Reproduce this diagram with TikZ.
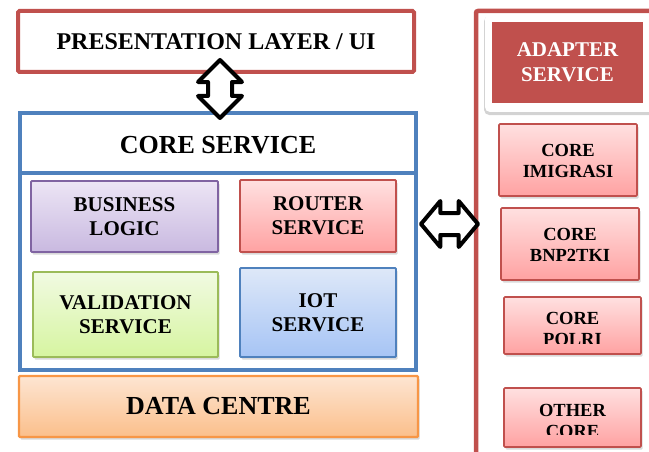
\documentclass[tikz,border=0pt]{standalone}
\usepackage{fontspec}
\setmainfont{Liberation Serif}
\usetikzlibrary{shapes.arrows,shadows}
\definecolor{redline}{HTML}{C0504D}
\definecolor{blueline}{HTML}{4F81BD}
\definecolor{purpleline}{HTML}{8064A2}
\definecolor{greenline}{HTML}{9BBB59}
\definecolor{orangeline}{HTML}{F79646}
\definecolor{purpletop}{HTML}{ECE5F5}
\definecolor{purplebot}{HTML}{C9B9E0}
\definecolor{redtop}{HTML}{FFE0E0}
\definecolor{redbot}{HTML}{FFA2A2}
\definecolor{greentop}{HTML}{F1FAE2}
\definecolor{greenbot}{HTML}{D6F5A0}
\definecolor{bluetop}{HTML}{DEE8F8}
\definecolor{bluebot}{HTML}{A6C4F5}
\definecolor{orangetop}{HTML}{FDE5D2}
\definecolor{orangebot}{HTML}{FBBF8B}
\tikzset{
  softshadow/.style={drop shadow={opacity=0.3, shadow xshift=1.5pt, shadow yshift=-2.5pt}},
  box/.style={draw, line width=1.8pt, rounded corners=1pt, inner sep=0pt, align=center,
    font=\bfseries\fontsize{21}{24}\selectfont, softshadow},
  purplebox/.style={box, draw=purpleline, top color=purpletop, bottom color=purplebot},
  redbox/.style={box, draw=redline, top color=redtop, bottom color=redbot},
  greenbox/.style={box, draw=greenline, top color=greentop, bottom color=greenbot},
  bluebox/.style={box, draw=blueline, top color=bluetop, bottom color=bluebot},
  orangebox/.style={box, draw=orangeline, line width=2.2pt, top color=orangetop, bottom color=orangebot,
    font=\bfseries\fontsize{26}{30}\selectfont},
  corebox/.style={redbox, line width=1.6pt},
  coretext/.style={inner sep=0pt, align=center, font=\bfseries\fontsize{18.5}{21}\selectfont},
  blockarrow/.style={draw=black, line width=4pt, fill=white, line join=round, inner sep=0pt}
}
\begin{document}
\begin{tikzpicture}[x=1pt,y=-1pt]
\useasboundingbox (0,0) rectangle (649,452);

% presentation layer
\node[draw=redline, line width=4pt, rounded corners=1.5pt, fill=white, minimum width=396pt, minimum height=61pt,
  font=\bfseries\fontsize{24}{28}\selectfont] (ui) at (216,41.5) {PRESENTATION LAYER / UI};

% core service container with header
\node[draw=blueline, line width=4pt, minimum width=396pt, minimum height=257pt, inner sep=0pt] (core) at (218,241.5) {};
\draw[blueline, line width=3.5pt] (core.west |- 0,173) coordinate (divl) -- (core.east |- 0,173) coordinate (divr);
\node[font=\bfseries\fontsize{26}{30}\selectfont, inner sep=0pt] (coretitle) at (218,145) {CORE SERVICE};

\node[purplebox, minimum width=187pt, minimum height=71pt] (business) at (124.5,216.5) {BUSINESS\\LOGIC};
\node[redbox, minimum width=156pt, minimum height=72pt] (router) at (318,216) {ROUTER\\SERVICE};
\node[greenbox, minimum width=185pt, minimum height=85pt] (validation) at (125.5,314.5) {VALIDATION\\SERVICE};
\node[bluebox, minimum width=156pt, minimum height=89pt] (iot) at (318,312.5) {IOT\\SERVICE};

% data centre
\node[orangebox, minimum width=399pt, minimum height=61pt] (data) at (218.5,406.5) {DATA CENTRE};

% adapter container
\draw[redline, line width=4.5pt, rounded corners=2pt] (476,460) -- (476,11) -- (660,11);
\node[fill=white, rounded corners=5pt, minimum width=175pt, minimum height=98pt,
  drop shadow={opacity=0.35, shadow xshift=0pt, shadow yshift=-2.5pt, shadow scale=1.01}] (card) at (572.5,63) {};
\node[fill=redline, minimum width=151pt, minimum height=81pt, inner sep=0pt, align=center, text=white,
  font=\bfseries\fontsize{21}{25}\selectfont] (adapter) at (567.5,62.5) {ADAPTER\\SERVICE};

\node[corebox, minimum width=138pt, minimum height=72pt] (imigrasi) at (568,160) {};
\node[coretext] at ([yshift=-0.5pt]imigrasi.center) {CORE\\IMIGRASI};
\node[corebox, minimum width=138pt, minimum height=72pt] (bnp) at (570,244) {};
\node[coretext] at ([yshift=-0.5pt]bnp.center) {CORE\\BNP2TKI};
\node[corebox, minimum width=137pt, minimum height=57pt] (polri) at (572.5,325.5) {};
\begin{scope}
  \clip (504,297) rectangle (641,343.5);
  \node[coretext] at ([yshift=-3.5pt]polri.center) {CORE\\POLRI};
\end{scope}
\node[corebox, minimum width=137pt, minimum height=59pt] (other) at (572.5,417.5) {};
\begin{scope}
  \clip (504,388) rectangle (641,434.5);
  \node[coretext] at ([yshift=-3pt]other.center) {OTHER\\CORE};
\end{scope}

% block arrows between layers
\node[blockarrow, double arrow, rotate=90, minimum height=58pt, inner ysep=10pt, inner xsep=0pt,
  double arrow head extend=10pt, double arrow tip angle=90] (uicore) at (220,89) {};
\node[blockarrow, double arrow, minimum height=57pt, inner ysep=9pt, inner xsep=0pt,
  double arrow head extend=12pt, double arrow tip angle=100] (coreadapter) at (449.5,224) {};
\end{tikzpicture}
\end{document}
